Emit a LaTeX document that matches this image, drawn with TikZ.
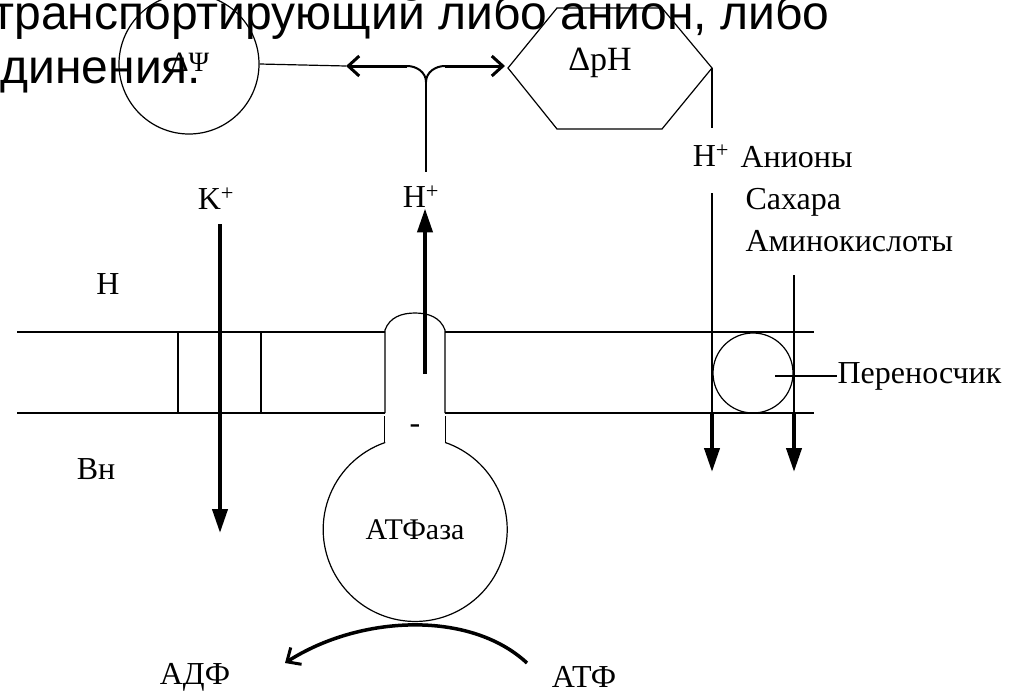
\documentclass[tikz,border=0pt]{standalone}
\usepackage{fontspec}
\setmainfont{Liberation Serif}
\newfontfamily\slidefont{Liberation Sans}
\usetikzlibrary{arrows.meta,positioning}

\tikzset{
  lbl/.style={font=\fontsize{32}{34}\selectfont, inner sep=0pt},
  flow/.style={line width=4pt, -{Triangle[width=15pt,length=24pt]}},
  barb/.style={line width=3pt, -{Straight Barb[width=20pt,length=11pt,line width=3pt]}},
  slide/.style={font=\slidefont\fontsize{48}{54}\selectfont, inner sep=0pt, anchor=base west},
}

\begin{document}
\begin{tikzpicture}[x=1pt,y=1pt,line width=1.2pt]
        \useasboundingbox (0,0) rectangle (1027,-699);
        \clip (0,0) rectangle (1027,-699);
        % membrane
        \draw (17,-332) -- (385,-332);
        \draw (17,-413) -- (385,-413);
        \draw (445,-332) -- (814,-332);
        \draw (445,-413) -- (814,-413);
        \draw (178,-332) -- (178,-413);
        \draw (261,-332) -- (261,-413);
        \node[lbl] (outer) at (108,-284) {Н};
        \node[lbl] (inner) at (96,-469) {Вн};
        % potential and pH
        \node[circle, draw, minimum size=140pt, inner sep=0pt] (psi) at (189,-64) {};
        \node[lbl, font=\fontsize{28}{30}\selectfont] (psilbl) at (190,-62) {ΔΨ};
        \coordinate (phL) at (508,-68);
        \coordinate (phR) at (712,-68);
        \draw (phL) -- (557,-8) -- (662,-8) -- (phR) -- (662,-129) -- (557,-129) -- cycle;
        \node[lbl, font=\fontsize{34}{36}\selectfont] (ph) at (600,-63) {ΔpH};
        % junction of the two arrows
        \coordinate (tipL) at (346,-66);
        \coordinate (tipR) at (505,-66);
        \coordinate (junc) at (426,-82);
        \draw (psi.east) -- (tipL);
        \draw[barb] (407,-66) -- (tipL);
        \draw[barb] (445,-66) -- (tipR);
        \draw[line width=2pt] (407,-66) to[out=0,in=90] (junc) to[out=90,in=180] (445,-66);
        % proton pump
        \node[lbl] (hplus) at (421,-197) {H\textsuperscript{+}};
        \draw (junc) -- ([yshift=14pt]hplus.north -| junc);
        \coordinate (hbase) at (425,-374);
        \draw[flow] (hbase) -- (hbase |- hplus.south);
        \draw (385,-413) -- (385,-330) to[out=70,in=180] (415,-313) to[out=0,in=110] (445,-330) -- (445,-413);
        \node[circle, minimum size=184pt, inner sep=0pt, font=\fontsize{30}{32}\selectfont] (atp) at (415,-530) {АТФаза};
        \draw (atp.71) arc[start angle=71, end angle=-251, radius=92pt];
        \draw (atp.109) -- ++(0,26);
        \draw (atp.71) -- ++(0,26);
        \node[lbl] (minus) at (415,-429) {-};
        % potassium
        \node[lbl] (kplus) at (216,-199) {K\textsuperscript{+}};
        \coordinate (kin) at (220,-533);
        \draw[flow, shorten <=14pt] (kplus.south -| kin) -- (kin);
        % symport
        \node[lbl] (hplusR) at (711,-156) {H\textsuperscript{+}};
        \node[lbl, anchor=base west] (anions) at (740,-167) {Анионы};
        \node[lbl, anchor=base west] (sugars) at (745,-209) {Сахара};
        \node[lbl, anchor=base west] (amino) at (745,-251) {Аминокислоты};
        \coordinate (colA) at (712,-472);
        \coordinate (colB) at (794,-472);
        \draw (phR) -- (712,-128);
        \draw (712,-193) -- (712,-413);
        \draw[flow] (712,-413) -- (colA);
        \draw (794,-275) -- (794,-413);
        \draw[flow] (794,-413) -- (colB);
        \node[circle, draw, minimum size=80pt, inner sep=0pt] (carrier) at (753,-373) {};
        \node[lbl, anchor=west] (carrierlbl) at (837,-376) {Переносчик};
        \draw ([xshift=22pt,yshift=-3pt]carrier.center) -- (carrierlbl.west);
        % ATP hydrolysis
        \node[lbl] (adp) at (195,-677) {АДФ};
        \node[lbl] (atpN) at (584,-677) {АТФ};
        \coordinate (arcS) at (527,-663);
        \coordinate (arcE) at (285,-663);
        \draw[barb, line width=3.5pt] (arcS) .. controls (470,-610) and (360,-615) .. (arcE);
        % slide text over the picture
        \node[slide] (slideA) at (-8,-29) {транспортирующий либо анион, либо};
        \node[slide] (slideB) at (0,-83) {динения.};
\end{tikzpicture}
\end{document}
